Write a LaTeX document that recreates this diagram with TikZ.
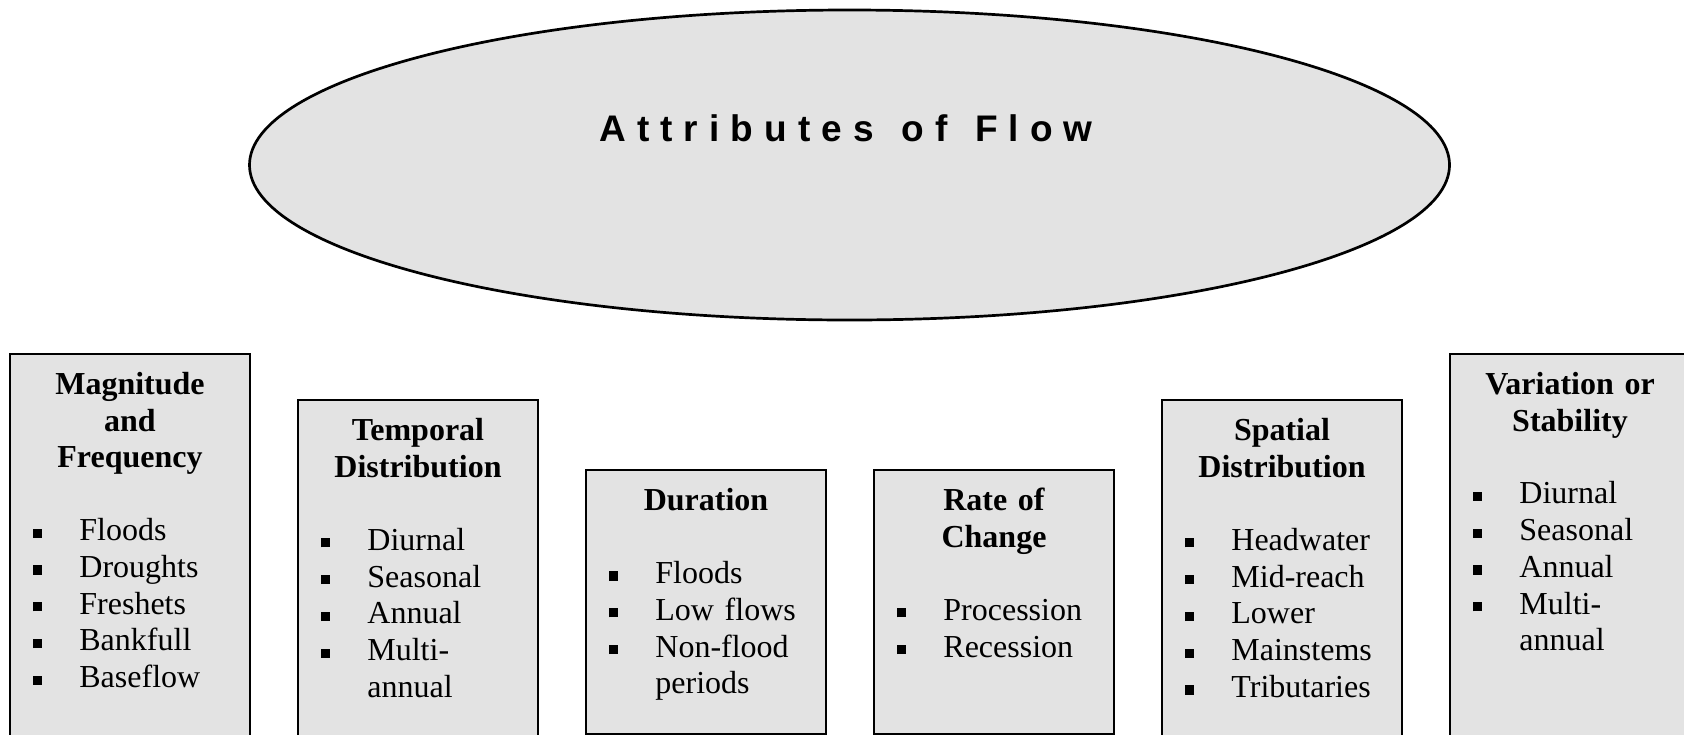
\documentclass[tikz,border=0pt]{standalone}
\usepackage{fontspec}
\setmainfont{Liberation Serif}
\newfontfamily\titlefont[LetterSpace=30]{Liberation Sans}
\usetikzlibrary{shapes.geometric}

\definecolor{flowgray}{RGB}{227,227,227}

% heading and list items inside a category box
\newcommand{\flowhead}[1]{\centering\rule{0pt}{20.7pt}\textbf{#1}\par\vspace{17.9pt}\raggedright\leftskip=34.7pt}
\newcommand{\flowitem}[1]{\par\leavevmode\llap{\rule[1.4pt]{4.6pt}{4.6pt}\hspace{18.5pt}}#1}

\tikzset{
	flowbox/.style={draw=black, line width=1pt, fill=flowgray, minimum width=120pt, anchor=north, inner sep=0pt},
	flowtext/.style={anchor=north, inner sep=0pt, text width=120pt, font=\fontsize{16}{18.4}\selectfont},
	titletext/.style={anchor=base, inner sep=0pt, font=\titlefont\bfseries\fontsize{18.5}{22}\selectfont}
}

\begin{document}
\begin{tikzpicture}[x=0.5pt, y=-0.5pt]
	\clip (0,0) rectangle (1684,734);
	
	% Main ellipse
	\node[ellipse, draw=black, line width=1.35pt, fill=flowgray, minimum width=600pt, minimum height=155pt, inner sep=0pt] (flow) at (849.5,165) {};
	\node[titletext] (flow-title) at (846,141.5) {Attributes\hspace{13.8pt}of\hspace{13.8pt}Flow};
	
	% Category boxes
	\foreach \nm/\x/\y/\h in {mag/130/352.5/210, temp/418/399/190, dur/706/469/132, rate/994/469/132, spat/1282/399/190, var/1570/352.5/210} {
		\node[flowbox, minimum height=\h pt] (\nm) at (\x,\y) {};
	}
	
	% Box texts
	\node[flowtext] (mag-text) at (mag.north) {\flowhead{Magnitude\\and\\Frequency}
		\flowitem{Floods}\flowitem{Droughts}\flowitem{Freshets}\flowitem{Bankfull}\flowitem{Baseflow}\par};
	\node[flowtext] (temp-text) at (temp.north) {\flowhead{Temporal\\Distribution}
		\flowitem{Diurnal}\flowitem{Seasonal}\flowitem{Annual}\flowitem{Multi-\\annual}\par};
	\node[flowtext] (dur-text) at (dur.north) {\flowhead{Duration}
		\flowitem{Floods}\flowitem{Low flows}\flowitem{Non-flood\\periods}\par};
	\node[flowtext] (rate-text) at (rate.north) {\flowhead{Rate of\\Change}
		\flowitem{Procession}\flowitem{Recession}\par};
	\node[flowtext] (spat-text) at (spat.north) {\flowhead{Spatial\\Distribution}
		\flowitem{Headwater}\flowitem{Mid-reach}\flowitem{Lower}\flowitem{Mainstems}\flowitem{Tributaries}\par};
	\node[flowtext] (var-text) at (var.north) {\flowhead{Variation or\\Stability}
		\flowitem{Diurnal}\flowitem{Seasonal}\flowitem{Annual}\flowitem{Multi-\\annual}\par};
\end{tikzpicture}
\end{document}
